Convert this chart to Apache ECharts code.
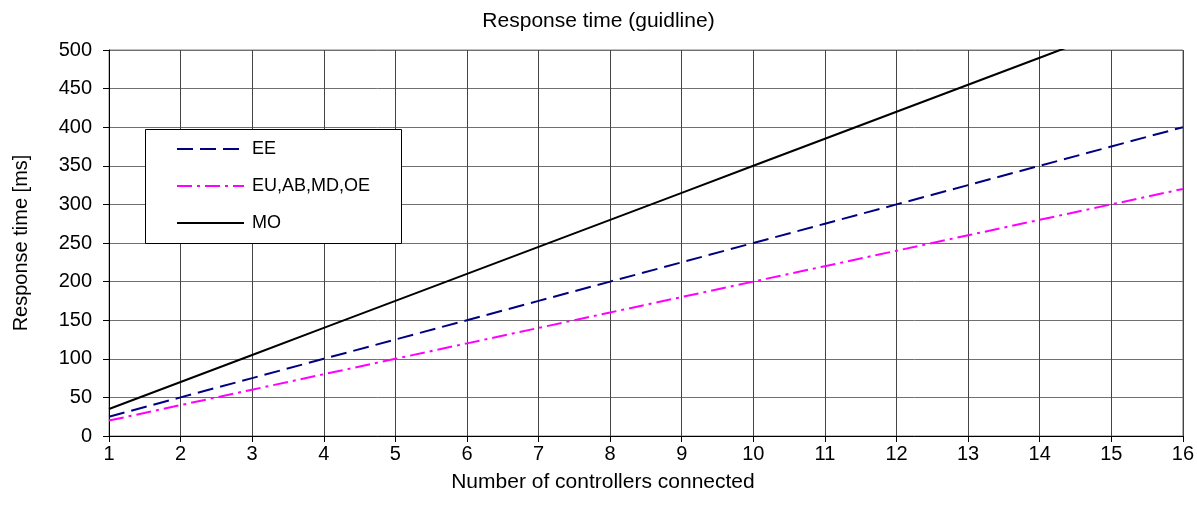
<!DOCTYPE html>
<html><head><meta charset="utf-8">
<script src="https://cdn.jsdelivr.net/npm/echarts@6/dist/echarts.min.js"></script>
<style>html,body{margin:0;padding:0;background:#fff}#c{width:1197px;height:518px}</style>
</head><body><div id="c"></div>
<script>
const controllers = [1,2,3,4,5,6,7,8,9,10,11,12,13,14,15,16];
const eeValues = [25,50,75,100,125,150,175,200,225,250,275,300,325,350,375,400];
const euValues = [20,40,60,80,100,120,140,160,180,200,220,240,260,280,300,320];
const moValues = [35,70,105,140,175,210,245,280,315,350,385,420,455,490,525,560];
const seriesNames = ['EE','EU,AB,MD,OE','MO'];
const titleText = 'Response time (guidline)';
const xName = 'Number of controllers connected';
const yName = 'Response time [ms]';

const font = 'Liberation Sans, Arial, sans-serif';
const pair = v => controllers.map((x,i)=>[x,v[i]]);
const chart = echarts.init(document.getElementById('c'));
chart.setOption({
  animation:false,
  textStyle:{fontFamily:font},
  title:{text:titleText,left:'center',top:11,padding:0,textStyle:{fontFamily:font,fontSize:21,fontWeight:'normal',color:'#000'}},
  grid:{left:109,right:14,top:50,bottom:82,show:true,borderColor:'#808080',borderWidth:1},
  graphic:[{type:'rect',left:145,top:129,shape:{width:256,height:114},style:{fill:'#fff',stroke:'#000',lineWidth:1},z:100}],
  legend:{orient:'vertical',left:176,top:140,padding:0,itemWidth:67,itemHeight:14,itemGap:19,z:101,
    itemStyle:{opacity:0},
    textStyle:{fontFamily:font,fontSize:18,color:'#000',padding:[0,0,0,3]},data:seriesNames},
  xAxis:{type:'value',min:1,max:16,interval:1,name:xName,nameLocation:'middle',nameGap:36,
    nameTextStyle:{fontFamily:font,fontSize:21,color:'#000',verticalAlign:'top',padding:[0,86,0,0]},
    axisLine:{lineStyle:{color:'#000',width:1}},axisTick:{show:true,length:6,lineStyle:{color:'#000'}},
    axisLabel:{fontFamily:font,fontSize:20,color:'#000',margin:8},
    splitLine:{show:true,lineStyle:{color:'#444',width:1}}},
  yAxis:{type:'value',min:0,max:500,interval:50,name:yName,nameLocation:'middle',nameGap:78,
    nameTextStyle:{fontFamily:font,fontSize:20,color:'#000'},
    axisLine:{show:true,lineStyle:{color:'#000',width:1}},axisTick:{show:true,length:6,lineStyle:{color:'#000'}},
    axisLabel:{fontFamily:font,fontSize:20,color:'#000',margin:17},
    splitLine:{show:true,lineStyle:{color:'#707070',width:1}}},
  series:[
    {name:seriesNames[0],type:'line',data:pair(eeValues),symbol:'none',color:'#000080',
      lineStyle:{color:'#000080',width:2,type:[16,7]}},
    {name:seriesNames[1],type:'line',data:pair(euValues),symbol:'none',color:'#ff00ff',
      lineStyle:{color:'#ff00ff',width:2,type:[15,5,3,5]}},
    {name:seriesNames[2],type:'line',data:pair(moValues),symbol:'none',color:'#000',clip:true,
      lineStyle:{color:'#000',width:2}}
  ]
});
</script></body></html>
